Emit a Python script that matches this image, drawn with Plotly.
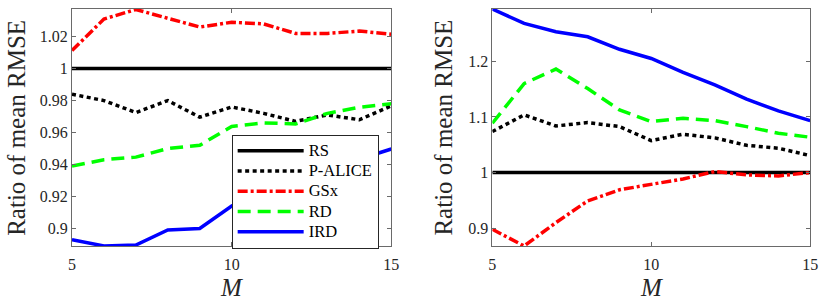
import plotly.graph_objects as go

# ---------------- data ----------------
M = [5, 6, 7, 8, 9, 10, 11, 12, 13, 14, 15]

# left panel
RS_L = [1, 1, 1, 1, 1, 1, 1, 1, 1, 1, 1]
PALICE_L = [0.984, 0.980, 0.9725, 0.980, 0.9696, 0.976, 0.972, 0.967, 0.971, 0.968, 0.9767]
GSX_L = [1.0113, 1.031, 1.037, 1.0315, 1.026, 1.029, 1.028, 1.022, 1.022, 1.0235, 1.0215]
RD_L = [0.939, 0.943, 0.9446, 0.950, 0.952, 0.9638, 0.966, 0.9654, 0.972, 0.9758, 0.978]
IRD_L = [0.893, 0.889, 0.8896, 0.899, 0.900, 0.914, 0.924, 0.931, 0.937, 0.9435, 0.9497]

# right panel
RS_R = [1, 1, 1, 1, 1, 1, 1, 1, 1, 1, 1]
PALICE_R = [1.0737, 1.1036, 1.0838, 1.0898, 1.0826, 1.0575, 1.0689, 1.0623, 1.049, 1.0437, 1.0305]
GSX_R = [0.898, 0.868, 0.910, 0.949, 0.969, 0.978, 0.9886, 1.0018, 0.9958, 0.994, 1.0]
RD_R = [1.0886, 1.160, 1.186, 1.151, 1.1126, 1.0916, 1.0976, 1.0934, 1.0826, 1.0707, 1.0635]
IRD_R = [1.294, 1.268, 1.253, 1.244, 1.2216, 1.205, 1.18, 1.1575, 1.132, 1.111, 1.0934]

NAMES = ["RS", "P-ALICE", "GSx", "RD", "IRD"]
X_TICKS = [5, 10, 15]
Y_TICKS_L = [0.9, 0.92, 0.94, 0.96, 0.98, 1, 1.02]
Y_TICK_TEXT_L = ["0.9", "0.92", "0.94", "0.96", "0.98", "1", "1.02"]
Y_TICKS_R = [0.9, 1, 1.1, 1.2]
Y_TICK_TEXT_R = ["0.9", "1", "1.1", "1.2"]

# ---------------- style ----------------
W, H = 830, 298
FONT = "Liberation Serif, Times New Roman, Times, serif"
LW = 3.5
STYLES = [
    dict(color="#000000", width=LW, dash="solid"),
    dict(color="#000000", width=LW, dash="4px,3.5px"),
    dict(color="#FF0000", width=LW, dash="10px,3px,3px,3px"),
    dict(color="#00FF00", width=LW, dash="13px,7px"),
    dict(color="#0000FF", width=LW, dash="solid"),
]

fig = go.Figure()

left = [RS_L, PALICE_L, GSX_L, RD_L, IRD_L]
right = [RS_R, PALICE_R, GSX_R, RD_R, IRD_R]
for i, (name, ys) in enumerate(zip(NAMES, left)):
    fig.add_trace(go.Scatter(x=M, y=ys, mode="lines",
                             name='<span style="font-size:16.5px">' + name + "</span>",
                             line=STYLES[i], xaxis="x", yaxis="y", showlegend=True))
for i, (name, ys) in enumerate(zip(NAMES, right)):
    fig.add_trace(go.Scatter(x=M, y=ys, mode="lines", name=name, line=STYLES[i],
                             xaxis="x2", yaxis="y2", showlegend=False))


def px_x(p):
    return p / W


def px_y(p):
    return 1 - p / H


axis_common = dict(
    showline=True, linecolor="#6a6a6a", linewidth=1, mirror="ticks",
    ticks="inside", ticklen=4, tickcolor="#6a6a6a", tickwidth=1,
    showgrid=False, zeroline=False,
    tickfont=dict(family=FONT, size=16, color="#262626"),
)

ydom = [px_y(246), px_y(9)]
fig.update_layout(
    width=W, height=H, autosize=False,
    margin=dict(l=0, r=0, t=0, b=0),
    paper_bgcolor="white", plot_bgcolor="white",
    xaxis=dict(domain=[px_x(69), px_x(393)], range=[5, 15], tickvals=X_TICKS,
               anchor="y", ticklabelstandoff=4, **axis_common),
    yaxis=dict(domain=ydom, range=[0.889, 1.0373], tickvals=Y_TICKS_L,
               ticktext=Y_TICK_TEXT_L, anchor="x", **axis_common),
    xaxis2=dict(domain=[px_x(495.5), px_x(818)], range=[5, 15], tickvals=X_TICKS,
                anchor="y2", ticklabelstandoff=4, **axis_common),
    yaxis2=dict(domain=ydom, range=[0.868, 1.294], tickvals=Y_TICKS_R,
                ticktext=Y_TICK_TEXT_R, anchor="x2", **axis_common),
    legend=dict(
        x=px_x(231), y=px_y(134.5), xanchor="left", yanchor="top",
        bgcolor="white", bordercolor="#262626", borderwidth=1,
        font=dict(family=FONT, size=13.3, color="#000000"),
        itemwidth=66, tracegroupgap=0,
    ),
    showlegend=True,
)

annots = []
for xc in (12.5, 445.5):
    annots.append(dict(text="Ratio of mean RMSE", x=px_x(xc), y=px_y(127.5),
                       xref="paper", yref="paper", showarrow=False, textangle=-90,
                       xanchor="center", yanchor="middle",
                       font=dict(family=FONT, size=25, color="#262626")))
for xc in (231, 656.5):
    annots.append(dict(text="<i>M</i>", x=px_x(xc), y=px_y(287.5), xref="paper",
                       yref="paper", showarrow=False, xanchor="center",
                       yanchor="middle",
                       font=dict(family=FONT, size=25, color="#262626")))
fig.update_layout(annotations=annots)

fig.write_html("out.html", config={"displayModeBar": False},
               post_script="document.body.style.margin='0';document.body.style.padding='0';")
